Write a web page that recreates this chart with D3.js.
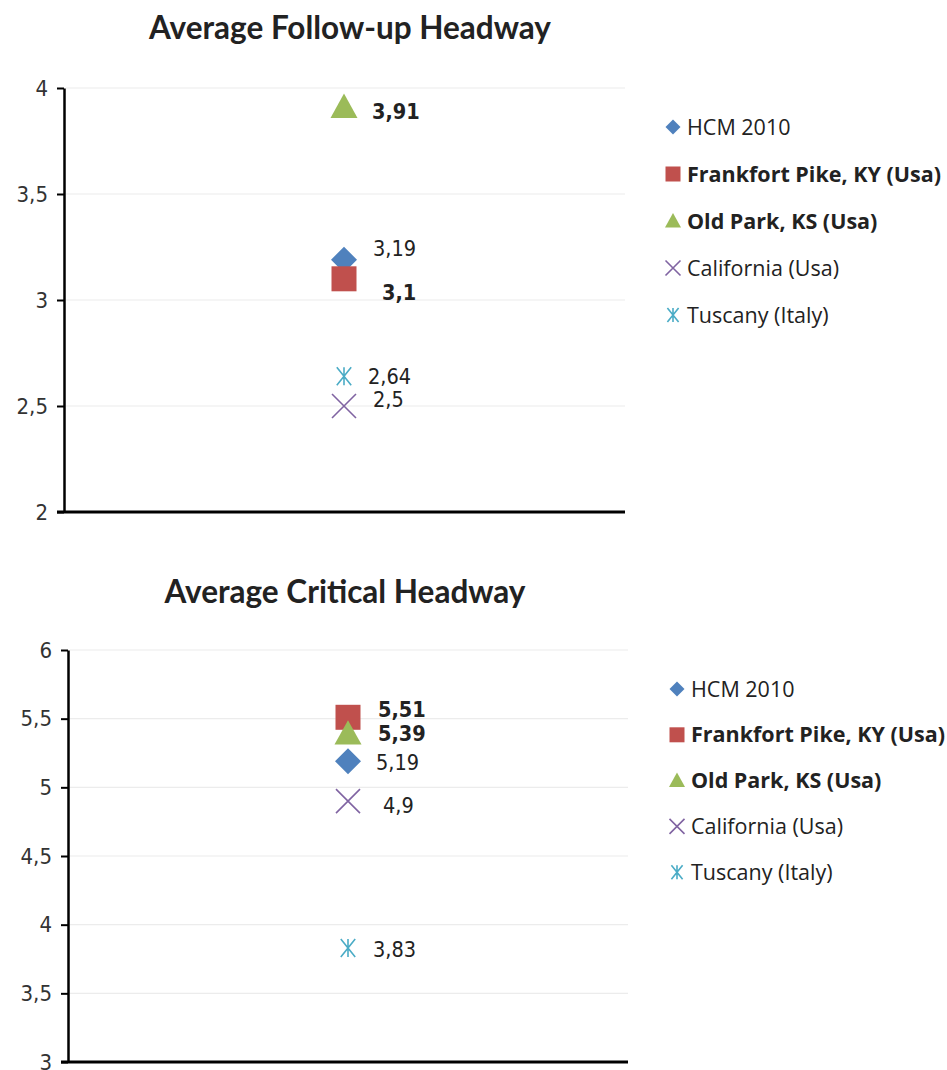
<!DOCTYPE html>
<html><head><meta charset="utf-8">
<script src="https://cdn.jsdelivr.net/npm/d3@7"></script>
<style>
body{margin:0;background:#fff;}
svg{display:block;}
</style></head>
<body>
<svg id="c" width="947" height="1070"></svg>
<script>
const series = ["HCM 2010","Frankfort Pike, KY (Usa)","Old Park, KS (Usa)","California (Usa)","Tuscany (Italy)"];
const seriesBold = [false,true,true,false,false];
const symbols = ["diamond","square","triangle","cross","asterisk"];
const colors = ["#4F81BD","#C0504D","#9BBB59","#8064A2","#4BACC6"];
const followUpValues = [3.19,3.1,3.91,2.5,2.64];
const criticalValues = [5.19,5.51,5.39,4.9,3.83];
const followUpTicks = [2,2.5,3,3.5,4];
const criticalTicks = [3,3.5,4,4.5,5,5.5,6];
const titles = ["Average Follow-up Headway","Average Critical Headway"];

const svg = d3.select("#c");
const fmt = v => String(v).replace(".", ",");
const narrow = "'DejaVu Sans Condensed','Liberation Sans Narrow',sans-serif";

const charts = [
  {title:titles[0], values:followUpValues, ticks:followUpTicks, domain:[2,4],
   top:88, bottom:512, left:64, right:625, px:344, titleY:39, titleX:350,
   legX:673, legY:127, legStep:47,
   nudge:[[29,-11],[38,14],[28,4],[29,-7],[24,0]]},
  {title:titles[1], values:criticalValues, ticks:criticalTicks, domain:[3,6],
   top:650, bottom:1062, left:68, right:628, px:348, titleY:603, titleX:345,
   legX:677, legY:689, legStep:45.8,
   nudge:[[28,1],[30,-8],[30,0],[35,4],[25,1]]}
];

function drawSymbol(g, type, color, size){
  const s=size/2;
  if(type==="cross"){
    g.append("path").attr("d",`M${-s},${-s}L${s},${s}M${-s},${s}L${s},${-s}`)
      .attr("stroke",color).attr("stroke-width",1.6).attr("fill","none");
  } else if(type==="asterisk"){
    g.append("path").attr("d",`M${-s*0.8},${-s}L${s*0.8},${s}M${-s*0.8},${s}L${s*0.8},${-s}M0,${-s}L0,${s}`)
      .attr("stroke",color).attr("stroke-width",1.6).attr("fill","none");
  } else if(type==="square"){
    g.append("rect").attr("x",-s).attr("y",-s).attr("width",size).attr("height",size).attr("fill",color);
  } else if(type==="diamond"){
    g.append("path").attr("d",`M0,${-s}L${s},0L0,${s}L${-s},0Z`).attr("fill",color);
  } else if(type==="triangle"){
    g.append("path").attr("d",`M0,${-s}L${s},${s*0.8}L${-s},${s*0.8}Z`).attr("fill",color);
  }
}

const markerSize = {diamond:26,square:25,triangle:27,cross:24,asterisk:18};
const legendSize = {diamond:15,square:15,triangle:16,cross:15,asterisk:14};

charts.forEach(c=>{
  const y = d3.scaleLinear().domain(c.domain).range([c.bottom,c.top]);
  const g = svg.append("g");
  g.append("text").attr("x",c.titleX).attr("y",c.titleY).attr("text-anchor","middle")
    .attr("font-family","Lato, 'Open Sans', sans-serif").attr("font-weight","bold")
    .attr("font-size",31.5).attr("fill","#222").text(c.title);
  g.append("g").selectAll("line").data(c.ticks.slice(1)).join("line")
    .attr("x1",c.left+2).attr("x2",c.right).attr("y1",d=>y(d)).attr("y2",d=>y(d))
    .attr("stroke","#ececec").attr("stroke-width",1.2);
  const ax = g.append("g").attr("transform",`translate(${c.left},0)`)
    .call(d3.axisLeft(y).tickValues(c.ticks).tickFormat(fmt).tickSize(7).tickSizeOuter(0));
  ax.select(".domain").attr("stroke","#000").attr("stroke-width",2.5);
  ax.selectAll(".tick line").attr("stroke","#000").attr("stroke-width",2);
  ax.selectAll(".tick text").attr("font-family",narrow)
    .attr("font-size",22).attr("fill","#333").attr("dx",-6);
  g.append("line").attr("x1",c.left-7).attr("x2",c.right).attr("y1",c.bottom).attr("y2",c.bottom)
    .attr("stroke","#000").attr("stroke-width",3);
  series.forEach((s,i)=>{
    const pg = g.append("g").attr("transform",`translate(${c.px},${y(c.values[i])})`);
    drawSymbol(pg, symbols[i], colors[i], markerSize[symbols[i]]);
  });
  series.forEach((s,i)=>{
    g.append("text").attr("x",c.px+c.nudge[i][0]).attr("y",y(c.values[i])+c.nudge[i][1])
      .attr("dy","0.35em")
      .attr("font-family",narrow)
      .attr("font-size",21.5).attr("font-weight",seriesBold[i]?"bold":"normal")
      .attr("fill","#222").text(fmt(c.values[i]));
  });
  series.forEach((s,i)=>{
    const ly = c.legY + i*c.legStep;
    const lg = g.append("g").attr("transform",`translate(${c.legX},${ly})`);
    drawSymbol(lg, symbols[i], colors[i], legendSize[symbols[i]]);
    g.append("text").attr("x",c.legX+14).attr("y",ly).attr("dy","0.35em")
      .attr("font-family","'Open Sans', sans-serif").attr("font-size",21.5)
      .attr("font-weight",seriesBold[i]?"bold":"normal").attr("fill","#222").text(s);
  });
});
</script>
</body></html>
